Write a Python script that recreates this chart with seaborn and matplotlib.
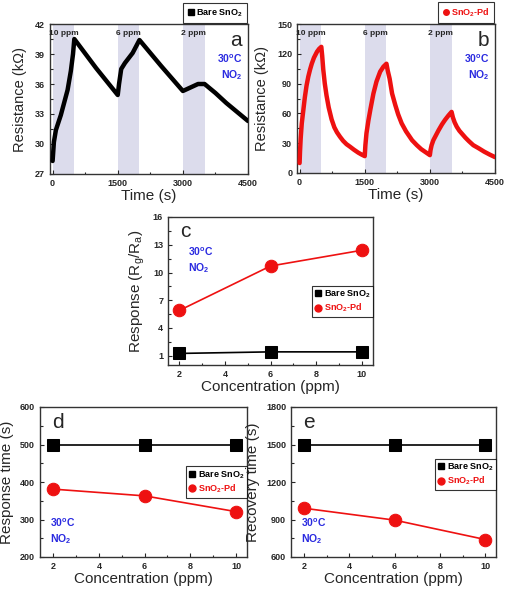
import matplotlib
matplotlib.use("Agg")
import matplotlib.pyplot as plt
import seaborn as sns
from matplotlib.lines import Line2D
from matplotlib.ticker import AutoMinorLocator, MultipleLocator

# panel a: bare SnO2 resistance transient (kOhm)
time_a = [0, 30, 76, 190, 345, 420, 470, 500, 1000, 1500, 1530, 1580, 1666, 1843, 2000,
          2500, 3000, 3200, 3350, 3500, 3750, 4000, 4250, 4500]
res_a = [28.3, 30.2, 31.4, 32.9, 35.4, 37.3, 39.0, 40.5, 37.6, 34.9, 36.0, 37.5, 38.1, 39.1, 40.4,
         37.8, 35.3, 35.7, 36.0, 36.0, 35.1, 34.1, 33.2, 32.3]

# panel b: SnO2-Pd resistance transient (kOhm)
time_b = [0, 10, 25, 50, 85, 120, 160, 200, 240, 280, 330, 400, 450, 500,
          520, 545, 580, 620, 670, 737, 800, 860, 930, 1000, 1080, 1160, 1250, 1350, 1430, 1500,
          1515, 1540, 1585, 1630, 1700, 1770, 1855, 1930, 2000,
          2030, 2073, 2130, 2203, 2270, 2350, 2450, 2590, 2700, 2800, 2900, 3000,
          3015, 3040, 3080, 3140, 3200, 3280, 3350, 3430, 3500,
          3530, 3570, 3620, 3680, 3740, 3820, 3900, 4000, 4120, 4250, 4380, 4500]
res_b = [10, 22, 35, 50, 63, 76, 88, 97, 104, 110, 116, 122, 125, 127,
         118, 104, 90, 78, 66, 54, 46, 41, 36.5, 32.5, 29, 26.5, 23.5, 20.5, 18.5, 17,
         28, 40, 53, 64, 80, 92, 102, 107, 110,
         103, 95, 80, 68.5, 59, 50, 42, 33, 28, 24, 21, 18,
         23, 28, 33, 38, 43, 49, 53.5, 58, 61.5,
         56, 51, 46.5, 42.5, 39.5, 35.5, 32, 28, 25, 21.5, 18.5, 16]

pulses = [(0, 500, "10 ppm"), (1500, 2000, "6 ppm"), (3000, 3500, "2 ppm")]

# panels c-e
conc = [2, 6, 10]
resp_bare = [1.25, 1.42, 1.42]
resp_pd = [5.9, 10.7, 12.4]
rt_bare = [500, 500, 500]
rt_pd = [381, 363, 321]
rec_bare = [1500, 1500, 1500]
rec_pd = [990, 895, 740]

sns.set_style("ticks")
plt.rcParams['font.family'] = ['Liberation Sans', 'DejaVu Sans']
plt.rcParams['mathtext.fontset'] = 'custom'
plt.rcParams['mathtext.rm'] = 'Liberation Sans'
plt.rcParams['mathtext.bf'] = 'Liberation Sans:bold'
plt.rcParams['mathtext.default'] = 'regular'

W, H = 514, 597
fig = plt.figure(figsize=(W / 100, H / 100), dpi=100)


def box(l, t, r, b):
    return fig.add_axes([l / W, 1 - b / H, (r - l) / W, (b - t) / H])


def style(ax):
    for s in ax.spines.values():
        s.set_linewidth(1.0)
        s.set_color("#333333")
    ax.tick_params(which="both", direction="in", top=False, right=False,
                   labelsize=6.5, width=0.8)
    ax.tick_params(which="major", length=3)
    ax.tick_params(which="minor", length=1.8)
    ax.xaxis.set_minor_locator(AutoMinorLocator(2))
    ax.yaxis.set_minor_locator(AutoMinorLocator(2))
    for lab in ax.get_xticklabels() + ax.get_yticklabels():
        lab.set_fontweight("bold")


blue = "#2a2ae0"
temp_txt = "30$^{\\mathbf{o}}$C\nNO$_{\\mathbf{2}}$"
bare_lbl = "Bare SnO$_{\\mathbf{2}}$"
pd_lbl = "SnO$_{\\mathbf{2}}$-Pd"
pd_red = "#ee1111"

# ---- a & b ----
for rect, t, r, col, mk, lbl, ylim, step, letter in [
    ((50, 24, 248, 174), time_a, res_a, "black", "s", bare_lbl, (27, 42), 3, "a"),
    ((297, 24, 495, 173), time_b, res_b, pd_red, "o", pd_lbl, (0, 150), 30, "b"),
]:
    ax = box(*rect)
    for x0, x1, txt in pulses:
        ax.axvspan(x0, x1, color="#dcdcec", lw=0, zorder=0)
        ax.text((x0 + x1) / 2, 0.96, txt, transform=ax.get_xaxis_transform(),
                ha="center", va="top", fontsize=6, fontweight="bold")
    sns.lineplot(x=t, y=r, ax=ax, color=col, lw=3.2, zorder=3)
    ax.set_xlim(-60, 4500)
    ax.set_ylim(*ylim)
    ax.xaxis.set_major_locator(MultipleLocator(1500))
    ax.yaxis.set_major_locator(MultipleLocator(step))
    ax.set_xlabel("Time (s)", fontsize=11, labelpad=1)
    ax.set_ylabel("Resistance (k\u03a9)", fontsize=10.5, labelpad=6)
    style(ax)
    ax.text(0.97, 0.89, letter, transform=ax.transAxes, ha="right", va="center", fontsize=15)
    ax.text(0.97, 0.71, temp_txt, transform=ax.transAxes, ha="right", va="center",
            fontsize=7.5, fontweight="bold", color=blue, linespacing=1.3)
    h = [Line2D([], [], ls="none", marker=mk, color=col, ms=4)]
    leg = ax.legend(handles=h, labels=[lbl], loc="lower right", bbox_to_anchor=(1.0, 1.0),
                    frameon=True, fancybox=False, edgecolor="black", fontsize=6.5,
                    handletextpad=0.2, handlelength=0.8, borderaxespad=0.1,
                    borderpad=0.5, labelcolor=[col])
    leg.get_frame().set_linewidth(0.8)
    for tx in leg.get_texts():
        tx.set_fontweight("bold")


def summary(rect, yb, yp, yticks, ylabel, letter, leg_anchor, temp_pos, xlim):
    ax = box(*rect)
    sns.lineplot(x=conc, y=yb, ax=ax, color="black", lw=1.2, marker="s", ms=8,
                 markeredgecolor="black", zorder=3)
    sns.lineplot(x=conc, y=yp, ax=ax, color=pd_red, lw=1.2, marker="o", ms=9,
                 markeredgecolor=pd_red, zorder=3)
    ax.set_xlim(*xlim)
    ax.set_ylim(yticks[0] if yticks[0] != 1 else 0, yticks[-1])
    ax.xaxis.set_major_locator(MultipleLocator(2))
    ax.set_yticks(yticks)
    ax.set_xlabel("Concentration (ppm)", fontsize=11, labelpad=1)
    ax.set_ylabel(ylabel, fontsize=11, labelpad=4)
    style(ax)
    ax.text(0.06, 0.9, letter, transform=ax.transAxes, ha="left", va="center", fontsize=15)
    ax.text(temp_pos[0], temp_pos[1], temp_txt, transform=ax.transAxes, ha="left",
            va="center", fontsize=7.5, fontweight="bold", color=blue, linespacing=1.3)
    h = [Line2D([], [], ls="none", marker="s", color="black", ms=5),
         Line2D([], [], ls="none", marker="o", color=pd_red, ms=5)]
    leg = ax.legend(handles=h, labels=[bare_lbl, pd_lbl], loc="center right",
                    bbox_to_anchor=leg_anchor, frameon=True, fancybox=False,
                    edgecolor="black", fontsize=6.5, handletextpad=0.2, handlelength=0.8,
                    borderaxespad=0.0, borderpad=0.3, labelspacing=0.2,
                    labelcolor=["black", pd_red])
    leg.get_frame().set_linewidth(0.8)
    for tx in leg.get_texts():
        tx.set_fontweight("bold")
    return ax


summary((168, 217, 373, 365), resp_bare, resp_pd, [1, 4, 7, 10, 13, 16],
        "Response (R$_g$/R$_a$)", "c", (1.0, 0.43), (0.1, 0.71), (1.5, 10.5))
summary((40, 407, 247, 557), rt_bare, rt_pd, [200, 300, 400, 500, 600],
        "Response time (s)", "d", (1.0, 0.5), (0.05, 0.17), (1.42, 10.48))
summary((291, 407, 496, 557), rec_bare, rec_pd, [600, 900, 1200, 1500, 1800],
        "Recovery time (s)", "e", (1.0, 0.55), (0.05, 0.17), (1.42, 10.48))

fig.savefig("out.png", dpi=100)
